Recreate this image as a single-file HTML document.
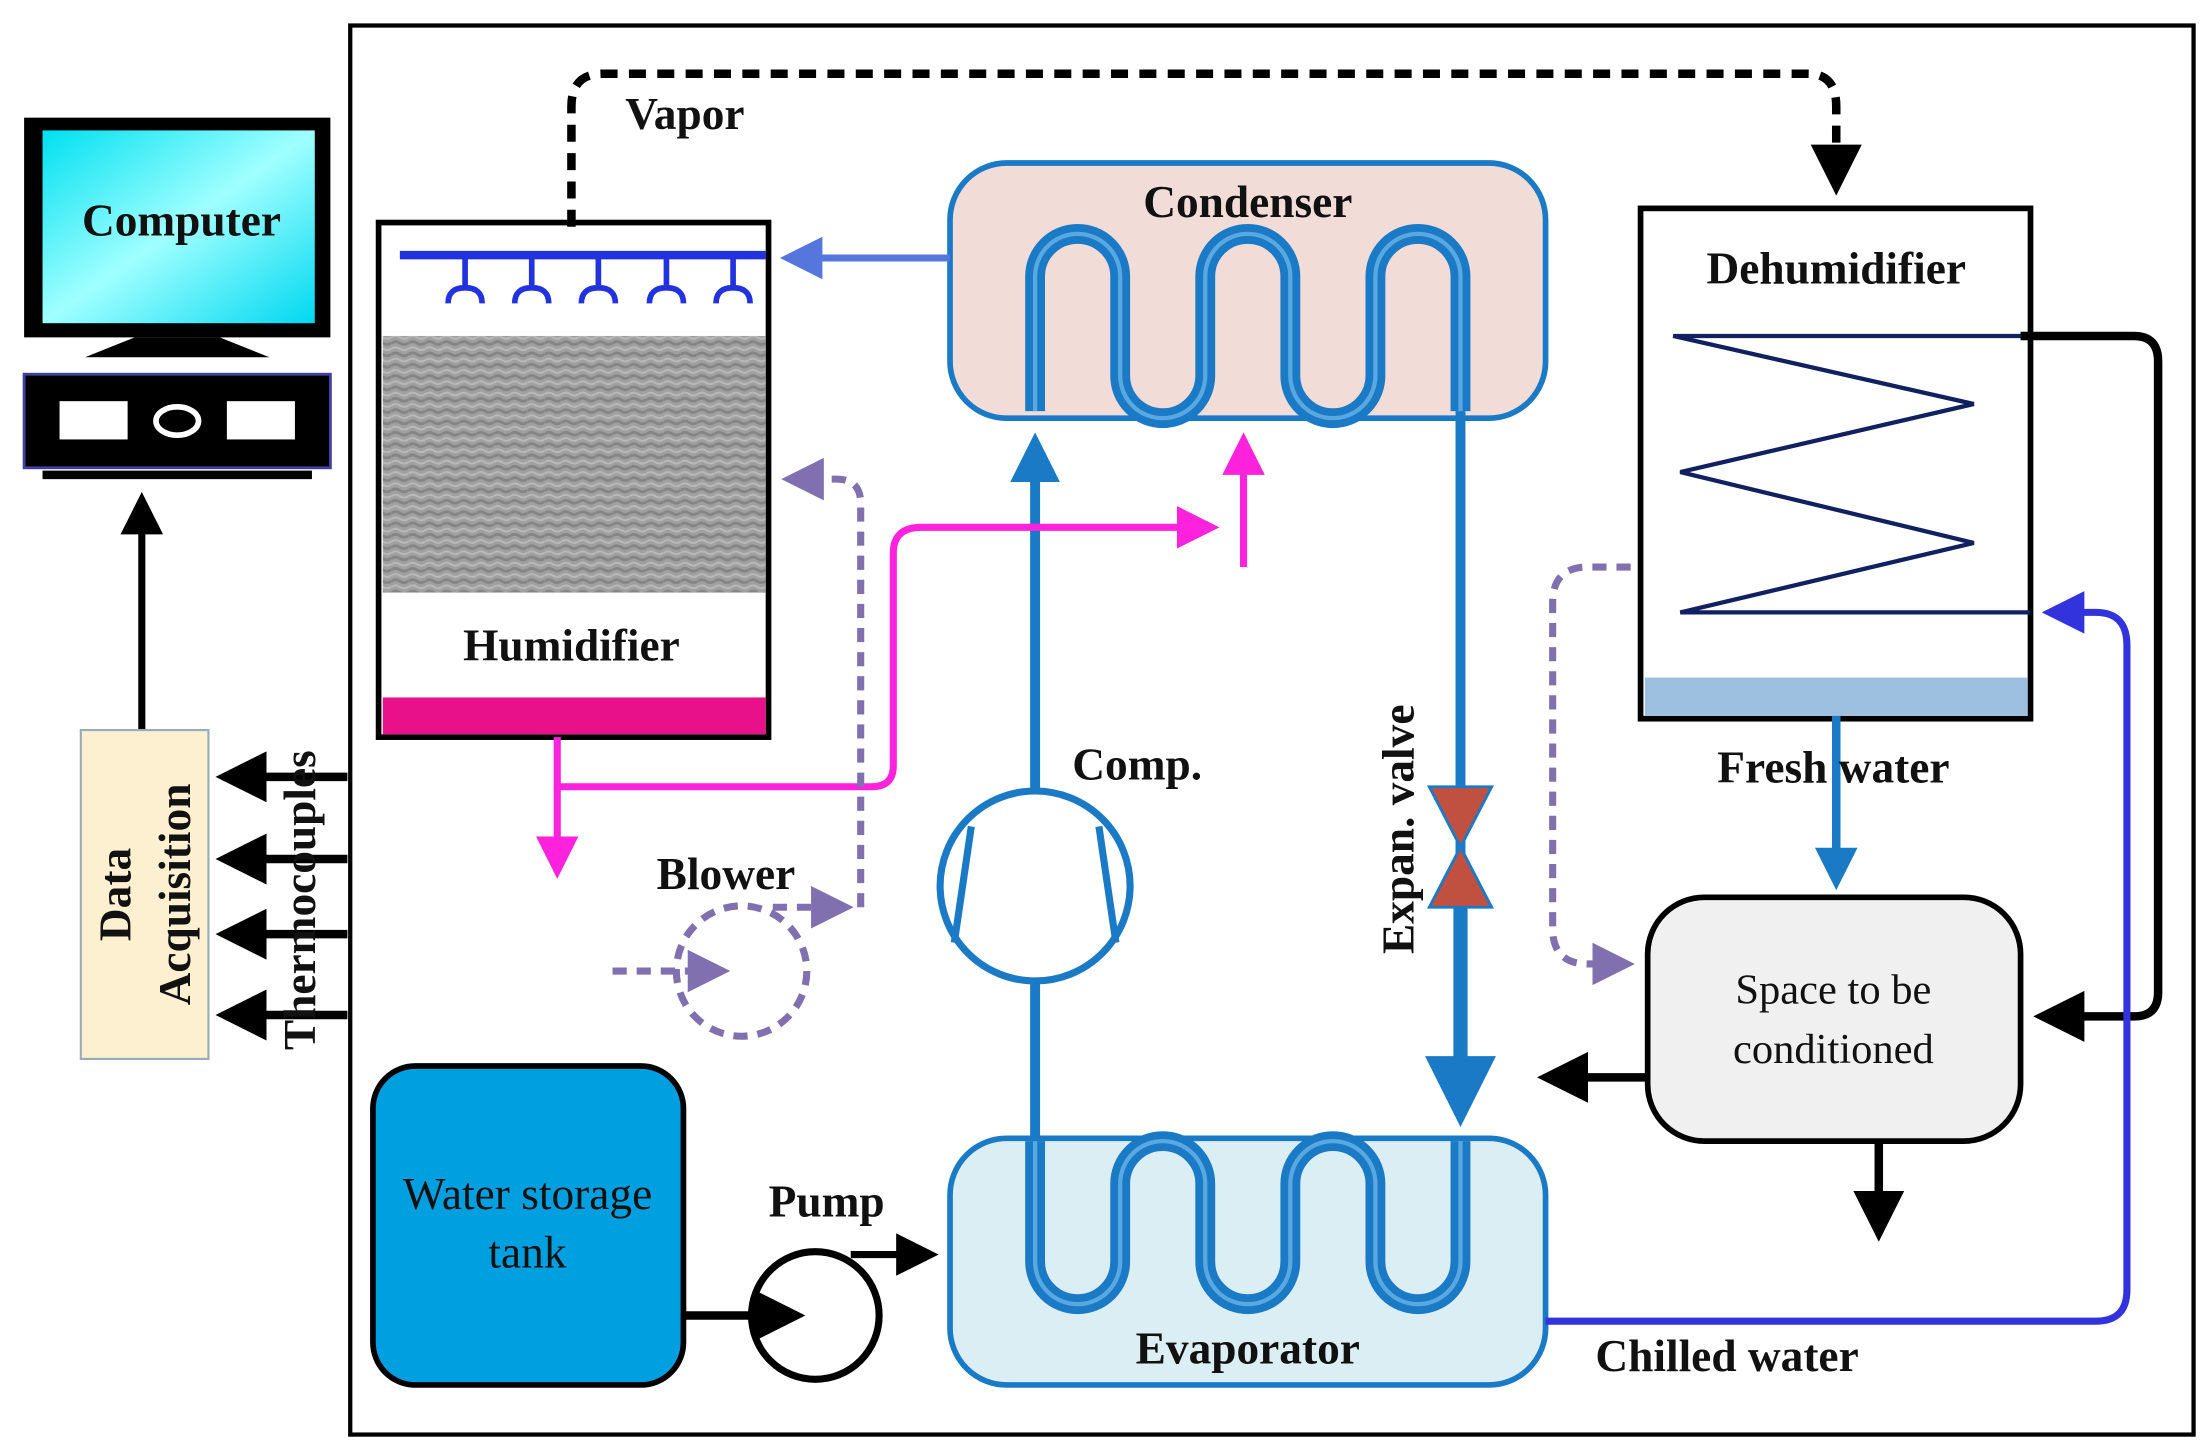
<!DOCTYPE html>
<html><head><meta charset="utf-8"><style>
html,body{margin:0;padding:0;background:#fff;}
svg{display:block;}
text{font-family:"Liberation Serif",serif;}
.b{font-weight:bold;font-size:32px;fill:#111;}
</style></head><body>
<svg width="2212" height="1453" viewBox="0 0 1560 1025" preserveAspectRatio="none" xmlns="http://www.w3.org/2000/svg">
<defs>
<marker id="ak" markerWidth="6" markerHeight="6" refX="5" refY="3" orient="auto" markerUnits="strokeWidth"><path d="M0,0 L6,3 L0,6 z" fill="#000"/></marker>
<marker id="ab" markerWidth="5" markerHeight="5" refX="4" refY="2.5" orient="auto" markerUnits="strokeWidth"><path d="M0,0 L5,2.5 L0,5 z" fill="#1a7ac6"/></marker>
<marker id="am" markerWidth="6" markerHeight="6" refX="5" refY="3" orient="auto" markerUnits="strokeWidth"><path d="M0,0 L6,3 L0,6 z" fill="#ff22dd"/></marker>
<marker id="ap" markerWidth="6" markerHeight="6" refX="5" refY="3" orient="auto" markerUnits="strokeWidth"><path d="M0,0 L6,3 L0,6 z" fill="#8070b0"/></marker>
<marker id="ac" markerWidth="6" markerHeight="6" refX="5" refY="3" orient="auto" markerUnits="strokeWidth"><path d="M0,0 L6,3 L0,6 z" fill="#3333dd"/></marker>
<marker id="al" markerWidth="6" markerHeight="6" refX="5" refY="3" orient="auto" markerUnits="strokeWidth"><path d="M0,0 L6,3 L0,6 z" fill="#5577dd"/></marker>
<linearGradient id="cy" x1="0" y1="0" x2="1" y2="1"><stop offset="0" stop-color="#00e0f0"/><stop offset="0.5" stop-color="#a0ffff"/><stop offset="1" stop-color="#00d8f0"/></linearGradient>
<pattern id="tx" width="12" height="8" patternUnits="userSpaceOnUse"><rect width="12" height="8" fill="#a0a0a0"/><path d="M0,2 Q3,0 6,2 T12,2" stroke="#858585" stroke-width="2" fill="none"/><path d="M0,6 Q3,4 6,6 T12,6" stroke="#b8b8b8" stroke-width="1.5" fill="none"/></pattern>
</defs>
<rect x="247" y="18" width="1300" height="994" fill="none" stroke="#000" stroke-width="3"/>

<rect x="17" y="83" width="216" height="155" fill="#000"/>
<rect x="30" y="92" width="192" height="136" fill="url(#cy)"/>
<text x="128" y="166" text-anchor="middle" class="b">Computer</text>
<path d="M95,238 H155 L190,252 H60 Z" fill="#000"/>
<rect x="17" y="264" width="216" height="66" fill="#000" stroke="#4040a0" stroke-width="2"/>
<rect x="42" y="283" width="48" height="27" fill="#fff"/>
<rect x="160" y="283" width="48" height="27" fill="#fff"/>
<ellipse cx="125" cy="297" rx="15" ry="10" fill="none" stroke="#fff" stroke-width="4"/>
<rect x="30" y="332" width="190" height="6" fill="#000"/>
<line x1="100" y1="518" x2="100" y2="352" stroke="#000" stroke-width="5" marker-end="url(#ak)"/>

<rect x="57" y="515" width="90" height="232" fill="#fdf0d0" stroke="#9ab" stroke-width="1.5"/>
<text transform="translate(92,631) rotate(-90)" text-anchor="middle" class="b">Data</text>
<text transform="translate(134,631) rotate(-90)" text-anchor="middle" class="b">Acquisition</text>
<g stroke="#000" stroke-width="6" marker-end="url(#ak)">
<line x1="245" y1="548" x2="158" y2="548"/><line x1="245" y1="606" x2="158" y2="606"/>
<line x1="245" y1="659" x2="158" y2="659"/><line x1="245" y1="716" x2="158" y2="716"/></g>
<text transform="translate(222,635) rotate(-90)" text-anchor="middle" class="b">Thermocouples</text>

<rect x="267" y="157" width="275" height="363" fill="#fff" stroke="#000" stroke-width="4"/>
<rect x="270" y="237" width="270" height="181" fill="url(#tx)"/>
<rect x="270" y="492" width="270" height="26" fill="#e8118a"/>
<text x="403" y="466" text-anchor="middle" class="b">Humidifier</text>
<line x1="282" y1="180" x2="540" y2="180" stroke="#2233dd" stroke-width="6"/>
<g stroke="#2233dd" stroke-width="4" fill="none">
<path d="M328,180 V203 M316,214 Q316,203 328,203 Q340,203 340,214"/>
<path d="M375,180 V203 M363,214 Q363,203 375,203 Q387,203 387,214"/>
<path d="M422,180 V203 M410,214 Q410,203 422,203 Q434,203 434,214"/>
<path d="M470,180 V203 M458,214 Q458,203 470,203 Q482,203 482,214"/>
<path d="M517,180 V203 M505,214 Q505,203 517,203 Q529,203 529,214"/></g>

<path d="M403,160 V75 Q403,52 425,52 H1275 Q1295,52 1295,75 V132" fill="none" stroke="#000" stroke-width="6" stroke-dasharray="12,8" marker-end="url(#ak)"/>
<text x="483" y="91" text-anchor="middle" class="b">Vapor</text>

<rect x="670" y="115" width="420" height="180" rx="40" fill="#f2dcd8" stroke="#1a7ac6" stroke-width="4"/>
<text x="880" y="153" text-anchor="middle" class="b">Condenser</text>
<path d="M730,290 V195 A30,30 0 0 1 790,195 V265 A30,30 0 0 0 850,265 V195 A30,30 0 0 1 910,195 V265 A30,30 0 0 0 970,265 V195 A30,30 0 0 1 1030,195 V290" fill="none" stroke="#1a7ac6" stroke-width="14"/>
<path d="M730,290 V195 A30,30 0 0 1 790,195 V265 A30,30 0 0 0 850,265 V195 A30,30 0 0 1 910,195 V265 A30,30 0 0 0 970,265 V195 A30,30 0 0 1 1030,195 V290" fill="none" stroke="#5aa8e0" stroke-width="3"/>
<line x1="670" y1="182" x2="555" y2="182" stroke="#5577dd" stroke-width="5" marker-end="url(#al)"/>

<rect x="670" y="803" width="420" height="174" rx="40" fill="#dbeef4" stroke="#1a7ac6" stroke-width="4"/>
<text x="880" y="962" text-anchor="middle" class="b">Evaporator</text>
<path d="M730,805 V890 A30,30 0 0 0 790,890 V835 A30,30 0 0 1 850,835 V890 A30,30 0 0 0 910,890 V835 A30,30 0 0 1 970,835 V890 A30,30 0 0 0 1030,890 V805" fill="none" stroke="#1a7ac6" stroke-width="14"/>
<path d="M730,805 V890 A30,30 0 0 0 790,890 V835 A30,30 0 0 1 850,835 V890 A30,30 0 0 0 910,890 V835 A30,30 0 0 1 970,835 V890 A30,30 0 0 0 1030,890 V805" fill="none" stroke="#5aa8e0" stroke-width="3"/>

<line x1="730" y1="558" x2="730" y2="312" stroke="#1a7ac6" stroke-width="7" marker-end="url(#ab)"/>
<line x1="730" y1="692" x2="730" y2="805" stroke="#1a7ac6" stroke-width="7"/>
<circle cx="730" cy="625" r="67" fill="#fff" stroke="#1a7ac6" stroke-width="5"/>
<line x1="685" y1="583" x2="673" y2="665" stroke="#1a7ac6" stroke-width="5"/>
<line x1="775" y1="583" x2="787" y2="665" stroke="#1a7ac6" stroke-width="5"/>
<text x="802" y="550" text-anchor="middle" class="b">Comp.</text>

<path d="M393,520 V555 H615 Q630,555 630,540 V390 Q630,372 650,372 H855" fill="none" stroke="#ff22dd" stroke-width="5" marker-end="url(#am)"/>
<line x1="393" y1="555" x2="393" y2="615" stroke="#ff22dd" stroke-width="5" marker-end="url(#am)"/>
<line x1="877" y1="400" x2="877" y2="310" stroke="#ff22dd" stroke-width="5" marker-end="url(#am)"/>

<line x1="1030" y1="290" x2="1030" y2="785" stroke="#1a7ac6" stroke-width="7"/>
<line x1="1030" y1="640" x2="1030" y2="785" stroke="#1a7ac6" stroke-width="10" marker-end="url(#ab)"/>
<path d="M1008,555 H1052 L1008,640 H1052 Z" fill="#c05040" stroke="#1a7ac6" stroke-width="2"/>
<text transform="translate(997,585) rotate(-90)" text-anchor="middle" class="b">Expan. valve</text>

<rect x="1157" y="147" width="275" height="360" fill="#fff" stroke="#000" stroke-width="4"/>
<rect x="1160" y="478" width="270" height="27" fill="#9ec0e0"/>
<text x="1295" y="200" text-anchor="middle" class="b">Dehumidifier</text>
<path d="M1425,237 H1180 L1392,285 L1185,333 L1392,383 L1185,432 H1432" fill="none" stroke="#102060" stroke-width="3"/>
<path d="M1425,237 H1505 Q1522,237 1522,255 V700 Q1522,717 1505,717 H1440" fill="none" stroke="#000" stroke-width="6" marker-end="url(#ak)"/>
<line x1="1295" y1="505" x2="1295" y2="622" stroke="#1a7ac6" stroke-width="6" marker-end="url(#ab)"/>
<text x="1293" y="552" text-anchor="middle" class="b">Fresh water</text>

<rect x="1162" y="633" width="263" height="172" rx="40" fill="#f0f0f0" stroke="#000" stroke-width="4"/>
<text x="1293" y="708" text-anchor="middle" font-size="30" fill="#111">Space to be</text>
<text x="1293" y="750" text-anchor="middle" font-size="30" fill="#111">conditioned</text>
<line x1="1162" y1="760" x2="1090" y2="760" stroke="#000" stroke-width="6" marker-end="url(#ak)"/>
<line x1="1325" y1="805" x2="1325" y2="870" stroke="#000" stroke-width="6" marker-end="url(#ak)"/>

<path d="M1090,932 H1478 Q1500,932 1500,910 V455 Q1500,432 1478,432 H1445" fill="none" stroke="#3333dd" stroke-width="5" marker-end="url(#ac)"/>
<text x="1218" y="967" text-anchor="middle" class="b">Chilled water</text>

<path d="M1150,400 H1120 Q1095,400 1095,425 V655 Q1095,680 1120,680 H1148" fill="none" stroke="#8070b0" stroke-width="5" stroke-dasharray="10,7" marker-end="url(#ap)"/>
<path d="M607,640 V355 Q607,338 590,338 H556" fill="none" stroke="#8070b0" stroke-width="5" stroke-dasharray="10,7" marker-end="url(#ap)"/>
<line x1="545" y1="640" x2="597" y2="640" stroke="#8070b0" stroke-width="5" stroke-dasharray="10,7" marker-end="url(#ap)"/>
<circle cx="523" cy="685" r="46" fill="none" stroke="#8070b0" stroke-width="5" stroke-dasharray="10,7"/>
<line x1="432" y1="685" x2="510" y2="685" stroke="#8070b0" stroke-width="5" stroke-dasharray="10,7" marker-end="url(#ap)"/>
<text x="512" y="627" text-anchor="middle" class="b">Blower</text>

<rect x="263" y="752" width="219" height="225" rx="30" fill="#00a0e0" stroke="#000" stroke-width="4"/>
<text x="372" y="853" text-anchor="middle" font-size="32" fill="#111">Water storage</text>
<text x="372" y="894" text-anchor="middle" font-size="32" fill="#111">tank</text>
<circle cx="575" cy="928" r="45" fill="#fff" stroke="#000" stroke-width="5"/>
<line x1="482" y1="928" x2="562" y2="928" stroke="#000" stroke-width="6" marker-end="url(#ak)"/>
<line x1="600" y1="885" x2="657" y2="885" stroke="#000" stroke-width="5" marker-end="url(#ak)"/>
<text x="583" y="858" text-anchor="middle" class="b">Pump</text>
</svg>
</body></html>
